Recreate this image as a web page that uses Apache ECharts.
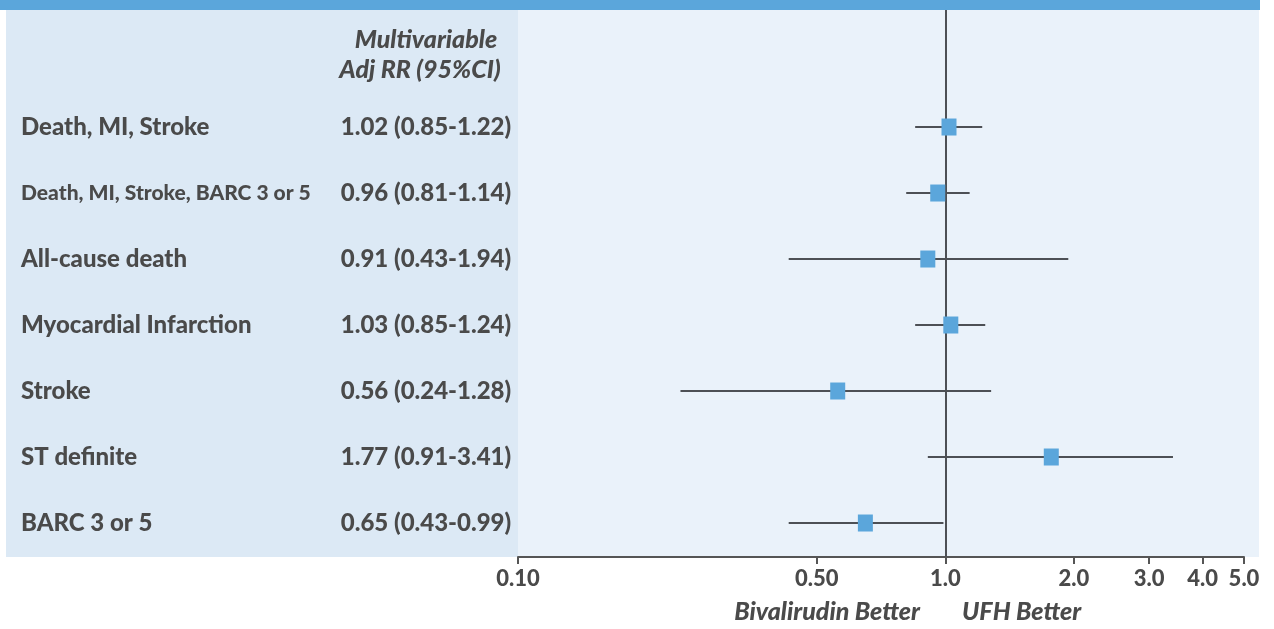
<!DOCTYPE html>
<html>
<head>
<meta charset="utf-8">
<script src="https://cdn.jsdelivr.net/npm/echarts@6/dist/echarts.min.js"></script>
<style>
  html, body { margin: 0; padding: 0; background: #ffffff; }
  #chart { width: 1274px; height: 629px; }
</style>
</head>
<body>
<div id="chart"></div>
<script>
// ---- data ----
const outcomes = ['Death, MI, Stroke', 'Death, MI, Stroke, BARC 3 or 5', 'All-cause death', 'Myocardial Infarction', 'Stroke', 'ST definite', 'BARC 3 or 5'];
const estimates = [1.02, 0.96, 0.91, 1.03, 0.56, 1.77, 0.65];
const lowerCI = [0.85, 0.81, 0.43, 0.85, 0.24, 0.91, 0.43];
const upperCI = [1.22, 1.14, 1.94, 1.24, 1.28, 3.41, 0.99];
const valueTexts = ['1.02 (0.85-1.22)', '0.96 (0.81-1.14)', '0.91 (0.43-1.94)', '1.03 (0.85-1.24)', '0.56 (0.24-1.28)', '1.77 (0.91-3.41)', '0.65 (0.43-0.99)'];
const tickValues = [0.1, 0.5, 1, 2, 3, 4, 5];
const tickLabels = ['0.10', '0.50', '1.0', '2.0', '3.0', '4.0', '5.0'];
const headerLines = ['Multivariable', 'Adj RR (95%CI)'];
const leftDirection = 'Bivalirudin Better';
const rightDirection = 'UFH Better';

const FONT = 'Lato';
const W = 900;
const TEXT = '#4a4a4a';
const BLUE = '#5ba6db';
const LINE = '#4d5055';

const lg = v => Math.log10(v);

const ciData = outcomes.map((n, i) => [i, lg(estimates[i]), lg(lowerCI[i]), lg(upperCI[i])]);
const ptData = outcomes.map((n, i) => [lg(estimates[i]), i]);

const chart = echarts.init(document.getElementById('chart'), null, { renderer: 'canvas' });

chart.setOption({
  animation: false,
  backgroundColor: '#ffffff',
  grid: { left: 518, right: 30, top: 10, bottom: 72, containLabel: false },
  xAxis: {
    type: 'value',
    min: lg(0.1),
    max: lg(5),
    splitLine: { show: false },
    axisLine: { show: true, onZero: false, lineStyle: { color: '#555555', width: 2 } },
    axisTick: { show: true, length: 7, lineStyle: { color: '#555555', width: 2 }, customValues: tickValues.map(lg) },
    axisLabel: {
      customValues: tickValues.map(lg),
      formatter: function (v) {
        let best = 0, d = Infinity;
        tickValues.forEach((t, k) => { const dd = Math.abs(lg(t) - v); if (dd < d) { d = dd; best = k; } });
        return tickLabels[best];
      },
      fontFamily: FONT, fontWeight: W, fontSize: 22, color: TEXT, margin: 11
    }
  },
  yAxis: {
    type: 'value',
    inverse: true,
    min: -1.773,
    max: 6.515,
    show: false
  },
  graphic: [
    { type: 'rect', z: -10, shape: { x: 0, y: 0, width: 1260, height: 10 }, style: { fill: BLUE } },
    { type: 'rect', z: -10, shape: { x: 6, y: 10, width: 512, height: 547 }, style: { fill: '#dce9f5' } },
    { type: 'rect', z: -10, shape: { x: 518, y: 10, width: 741, height: 547 }, style: { fill: '#eaf2fa' } },
    { type: 'text', x: 426, y: 40, style: { text: headerLines[0], fontFamily: FONT, fontWeight: W, fontStyle: 'italic', fontSize: 25, fill: TEXT, align: 'center', verticalAlign: 'middle' } },
    { type: 'text', x: 420, y: 70, style: { text: headerLines[1], fontFamily: FONT, fontWeight: W, fontStyle: 'italic', fontSize: 25, fill: TEXT, align: 'center', verticalAlign: 'middle' } },
    { type: 'text', x: 920, y: 612, style: { text: leftDirection, fontFamily: FONT, fontWeight: W, fontStyle: 'italic', fontSize: 25, fill: TEXT, align: 'right', verticalAlign: 'middle' } },
    { type: 'text', x: 962, y: 612, style: { text: rightDirection, fontFamily: FONT, fontWeight: W, fontStyle: 'italic', fontSize: 25, fill: TEXT, align: 'left', verticalAlign: 'middle' } }
  ],
  series: [
    {
      type: 'custom',
      name: 'CI',
      clip: false,
      z: 3,
      data: ciData,
      encode: { x: [2, 3], y: 0 },
      renderItem: function (params, api) {
        const i = api.value(0);
        const p1 = api.coord([api.value(2), i]);
        const p2 = api.coord([api.value(3), i]);
        const labelSize = outcomes[i].length > 24 ? 21 : 24;
        return {
          type: 'group',
          children: [
            { type: 'line', shape: { x1: p1[0], y1: p1[1], x2: p2[0], y2: p2[1] }, style: { stroke: LINE, lineWidth: 2 } },
            { type: 'text', x: 21, y: p1[1], style: { text: outcomes[i], fontFamily: FONT, fontWeight: W, fontSize: labelSize, fill: TEXT, align: 'left', verticalAlign: 'middle' } },
            { type: 'text', x: 426, y: p1[1], style: { text: valueTexts[i], fontFamily: FONT, fontWeight: W, fontSize: 24, fill: TEXT, align: 'center', verticalAlign: 'middle' } }
          ]
        };
      }
    },
    {
      type: 'scatter',
      name: 'RR',
      z: 5,
      symbol: 'rect',
      symbolSize: [15, 17],
      itemStyle: { color: BLUE, opacity: 1 },
      data: ptData,
      markLine: {
        silent: true,
        symbol: ['none', 'none'],
        label: { show: false },
        lineStyle: { color: LINE, width: 2, type: 'solid' },
        data: [{ xAxis: lg(1) }]
      }
    }
  ]
});
</script>
</body>
</html>
